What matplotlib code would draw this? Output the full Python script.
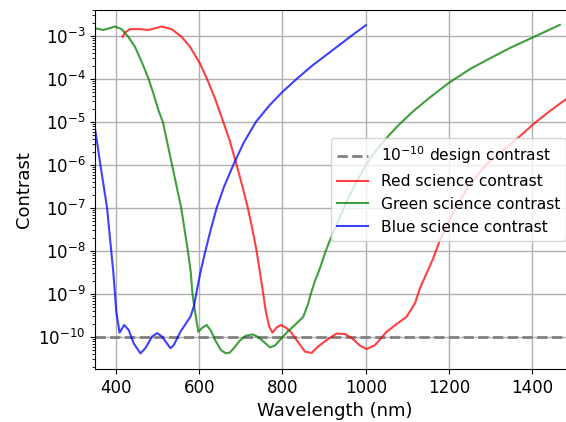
"""Red / green / blue science contrast versus wavelength."""

import numpy as np
import matplotlib
matplotlib.use('Agg')
import matplotlib.pyplot as plt
from matplotlib.ticker import LogLocator, NullFormatter


# Values; contrast kept as log10 exponents
blue_nm = [350, 357, 363, 371, 379, 384, 389, 394, 398, 401, 409, 420, 431, 443,
           459, 471, 487, 499, 511, 531, 539, 555, 579, 587, 593, 603, 615, 628,
           642, 660, 682, 706, 736, 770, 800, 834, 870, 915, 965, 1000]
blue_log = [-5.15, -5.6, -6.0, -6.5, -7.0, -7.5, -8.0, -8.5, -9.0, -9.4, -9.9,
            -9.72, -9.84, -10.15, -10.38, -10.26, -9.99, -9.91, -9.99, -10.26,
            -10.19, -9.88, -9.53, -9.3, -9.0, -8.5, -8.0, -7.5, -7.0, -6.5, -6.0,
            -5.5, -5.0, -4.6, -4.3, -4.0, -3.7, -3.37, -3.0, -2.75]

green_nm = [350, 370, 398, 414, 430, 446, 462, 478, 490, 502, 513, 524, 535, 546,
            557, 565, 573, 580, 584, 590, 598, 608, 618, 628, 640, 652, 664, 674,
            684, 698, 712, 728, 742, 756, 770, 782, 796, 812, 830, 850, 862, 868,
            878, 890, 904, 914, 934, 954, 978, 1000, 1025, 1050, 1080, 1114, 1150,
            1198, 1250, 1298, 1350, 1404, 1466]
green_log = [-2.82, -2.86, -2.78, -2.84, -3.02, -3.25, -3.6, -3.98, -4.33, -4.72,
             -5.0, -5.5, -6.0, -6.5, -7.0, -7.5, -8.0, -8.5, -9.0, -9.4, -9.88,
             -9.78, -9.72, -9.85, -10.1, -10.3, -10.38, -10.36, -10.25, -10.08,
             -9.97, -9.94, -10.0, -10.12, -10.24, -10.2, -10.05, -9.88, -9.72,
             -9.53, -9.22, -9.0, -8.7, -8.4, -8.0, -7.75, -7.3, -6.85, -6.39,
             -6.0, -5.66, -5.37, -5.06, -4.75, -4.46, -4.1, -3.77, -3.52, -3.26,
             -3.02, -2.74]

red_nm = [416, 422, 434, 458, 478, 510, 534, 558, 578, 602, 619, 638, 658, 674,
          690, 704, 717, 728, 738, 746, 754, 760, 768, 776, 786, 796, 808, 820,
          836, 854, 870, 886, 906, 930, 950, 966, 986, 1002, 1022, 1050, 1074,
          1098, 1118, 1130, 1146, 1162, 1178, 1200, 1220, 1250, 1290, 1330, 1362,
          1406, 1440, 1478, 1500]
red_log = [-3.02, -2.92, -2.84, -2.84, -2.86, -2.78, -2.84, -3.02, -3.25, -3.64,
           -4.0, -4.45, -5.0, -5.45, -6.0, -6.5, -7.0, -7.5, -8.0, -8.5, -9.0,
           -9.4, -9.75, -9.9, -9.78, -9.72, -9.78, -9.88, -10.1, -10.34, -10.37,
           -10.22, -10.07, -9.92, -9.93, -10.02, -10.2, -10.28, -10.19, -9.88,
           -9.7, -9.53, -9.22, -8.87, -8.52, -8.17, -7.75, -7.3, -6.92, -6.45,
           -5.98, -5.65, -5.4, -5.02, -4.76, -4.49, -4.35]

design_contrast = 1e-10
x_range = [350, 1500]

series = [
    ('Red science contrast', red_nm, red_log, 'r'),
    ('Green science contrast', green_nm, green_log, 'g'),
    ('Blue science contrast', blue_nm, blue_log, 'b'),
]


def create_plot():
    fig = plt.figure(figsize=(5.66, 4.22), dpi=100)
    # axes run a little past the right edge, as in the cropped original
    ax = fig.add_axes([95 / 566, 53 / 422, 479 / 566, 359 / 422])

    ax.plot(x_range, [design_contrast] * 2, '--', color='gray', lw=2,
            label=r'$10^{-10}$ design contrast')
    for name, nm, lg, col in series:
        ax.plot(nm, 10.0 ** np.array(lg), color=col, alpha=0.75, lw=1.5, label=name)

    ax.set_yscale('log')
    ax.set_xlim(x_range)
    ax.set_ylim(10 ** -10.744, 10 ** -2.395)
    ax.yaxis.set_major_locator(LogLocator(base=10, numticks=20))
    ax.yaxis.set_minor_locator(LogLocator(base=10, subs=np.arange(2, 10), numticks=100))
    ax.yaxis.set_minor_formatter(NullFormatter())
    ax.grid(True, which='major', color='#b0b0b0', lw=1)
    ax.tick_params(labelsize=12)
    ax.set_xlabel('Wavelength (nm)', fontsize=13)
    ax.set_ylabel('Contrast', fontsize=13)
    ax.legend(loc='center right', fontsize=11.2)

    fig.savefig('out.png', dpi=100)


if __name__ == '__main__':
    create_plot()
